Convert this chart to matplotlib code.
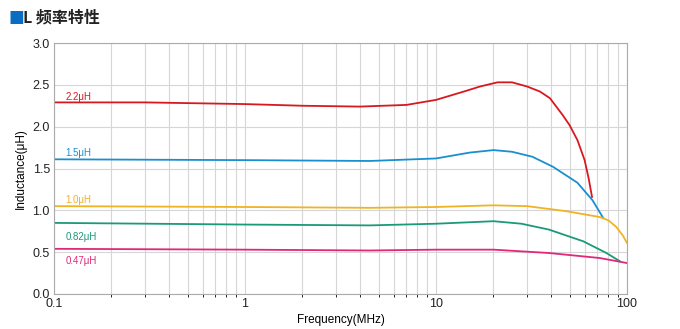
import numpy as np
import matplotlib
matplotlib.use("Agg")
import matplotlib.pyplot as plt
from matplotlib.ticker import LogLocator, FixedLocator, FixedFormatter, NullFormatter

plt.rcParams['font.family'] = ['Liberation Sans', 'Noto Sans CJK SC', 'DejaVu Sans']

# ---- data ----
f_22 = [0.1, 0.3, 1, 2, 4, 7, 10, 14, 17, 21, 25, 30, 35, 39.5, 46, 50, 55, 60, 63, 65.6]
l_22 = [2.29, 2.29, 2.27, 2.25, 2.24, 2.26, 2.32, 2.42, 2.48, 2.53, 2.53, 2.48, 2.42, 2.34, 2.14, 2.02, 1.84, 1.6, 1.38, 1.16]

f_15 = [0.1, 1, 4.5, 10, 15, 20, 25, 32, 41, 55, 66, 75]
l_15 = [1.61, 1.60, 1.59, 1.62, 1.69, 1.72, 1.70, 1.64, 1.52, 1.33, 1.12, 0.91]

f_10 = [0.1, 1, 4.5, 10, 20, 30, 48, 72, 80, 88, 95, 100]
l_10 = [1.05, 1.04, 1.03, 1.04, 1.06, 1.05, 0.99, 0.92, 0.88, 0.80, 0.70, 0.61]

f_082 = [0.1, 1, 4.5, 10, 20, 28, 39, 59, 78, 92]
l_082 = [0.85, 0.83, 0.82, 0.84, 0.87, 0.84, 0.77, 0.63, 0.49, 0.39]

f_047 = [0.1, 1, 4.5, 10, 20, 39, 72, 100]
l_047 = [0.54, 0.53, 0.52, 0.53, 0.53, 0.49, 0.43, 0.37]

series = [
    ("2.2\u03bcH", f_22, l_22, "#d7191f", 2.36),
    ("1.5\u03bcH", f_15, l_15, "#1a8fd0", 1.68),
    ("1.0\u03bcH", f_10, l_10, "#f0b323", 1.12),
    ("0.82\u03bcH", f_082, l_082, "#1a9a7a", 0.68),
    ("0.47\u03bcH", f_047, l_047, "#e0287a", 0.40),
]

fig = plt.figure(figsize=(6.8, 3.29), dpi=100)
ax = fig.add_axes([54/680, 35/329, (627-54)/680, (294-43)/329])

for name, f, l, c, ly in series:
    ax.plot(f, l, color=c, lw=1.3)
    ax.text(0.115, ly, name, color=c, fontsize=7, va='center', ha='left')

ax.set_xscale('log')
ax.set_xlim(0.1, 100)
ax.set_ylim(0, 3.0)
ax.xaxis.set_major_locator(FixedLocator([0.1, 1, 10, 100]))
ax.xaxis.set_major_formatter(FixedFormatter(['0.1', '1', '10', '100']))
ax.xaxis.set_minor_locator(LogLocator(base=10, subs=np.arange(2, 10)))
ax.xaxis.set_minor_formatter(NullFormatter())
ax.set_yticks(np.arange(0, 3.01, 0.5))
ax.set_yticklabels(['%.1f' % v for v in np.arange(0, 3.01, 0.5)])
ax.grid(True, which='both', color='#d6d6d6', lw=0.8)
ax.set_axisbelow(True)
ax.tick_params(length=0, labelsize=9, colors='#222222', pad=3)
for s in ax.spines.values():
    s.set_color('#aaaaaa')
    s.set_linewidth(0.8)

ax.set_xlabel('Frequency(MHz)', fontsize=8.5, labelpad=3)
ax.set_ylabel('Inductance(\u03bcH)', fontsize=8.5, labelpad=4)

fig.text(8/680, 1 - 17/329, '\u25a0', color='#0a6cc2', fontsize=12, va='center', family=['DejaVu Sans'])
fig.text(23/680, 1 - 17/329, 'L 频率特性', fontsize=11.5, fontweight='bold', va='center',
         family=['Noto Sans CJK SC', 'DejaVu Sans'], color='#222222')

fig.savefig('out.png', dpi=100)
